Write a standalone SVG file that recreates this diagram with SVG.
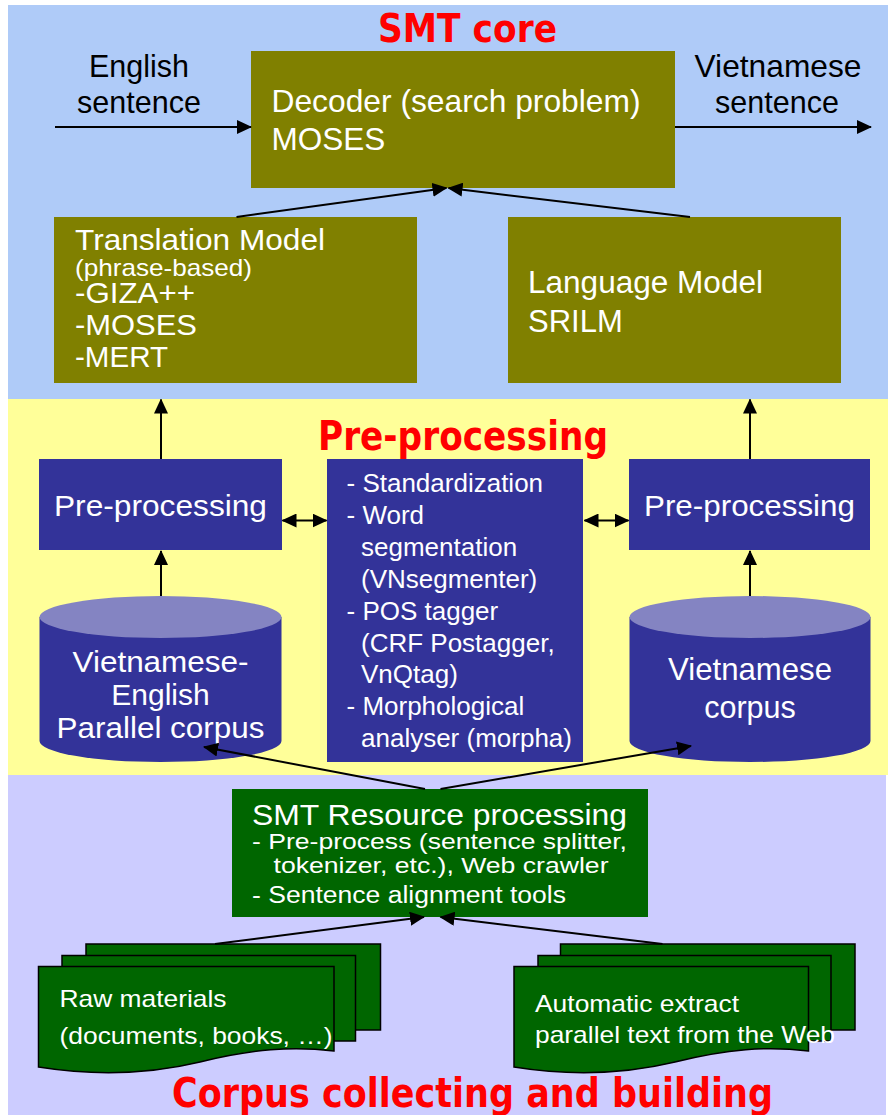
<svg xmlns="http://www.w3.org/2000/svg" width="888" height="1115" viewBox="0 0 888 1115">
  <defs>
    <marker id="ah" viewBox="0 0 15 14" refX="14" refY="7" markerWidth="15" markerHeight="14" markerUnits="userSpaceOnUse" orient="auto-start-reverse">
      <path d="M0,0 L15,7 L0,14 Z" fill="#000"/>
    </marker>
    <style>
      .band-core { fill: #AFCBF8; }
      .band-pre { fill: #FFFF99; }
      .band-corpus { fill: #CCCCFF; }
      .title { font-family: "DejaVu Sans", "Liberation Sans", sans-serif; font-weight: bold; fill: #FF0000; }
      .olive { fill: #808000; }
      .navy { fill: #333399; }
      .navy-top { fill: #8484C2; }
      .green { fill: #006600; }
      .page { fill: #006600; stroke: #000; stroke-width: 1.5; }
      .t { font-family: "Liberation Sans", Arial, sans-serif; fill: #fff; }
      .k { font-family: "Liberation Sans", Arial, sans-serif; fill: #000; }
      .conn line, .conn path { stroke: #000; stroke-width: 2; fill: none; }
    </style>
  </defs>

  <!-- background bands -->
  <rect width="888" height="1115" fill="#fff"/>
  <rect class="band-core" x="8" y="5" width="880" height="394"/>
  <rect class="band-pre" x="8" y="399" width="880" height="376"/>
  <rect class="band-corpus" x="8" y="775" width="878" height="340"/>

  <!-- band titles -->
  <text class="title" x="378" y="41.5" font-size="38.5" textLength="179" lengthAdjust="spacingAndGlyphs">SMT core</text>
  <text class="title" x="318" y="450" font-size="41" textLength="290" lengthAdjust="spacingAndGlyphs">Pre-processing</text>
  <text class="title" x="172" y="1107" font-size="40" textLength="601" lengthAdjust="spacingAndGlyphs">Corpus collecting and building</text>

  <!-- side labels -->
  <g id="label-english">
    <text class="k" x="139" y="77" font-size="30.5" text-anchor="middle">English</text>
    <text class="k" x="139" y="113" font-size="30.5" text-anchor="middle">sentence</text>
  </g>
  <g id="label-vietnamese">
    <text class="k" x="778" y="77" font-size="30.5" text-anchor="middle" textLength="167" lengthAdjust="spacingAndGlyphs">Vietnamese</text>
    <text class="k" x="777" y="113" font-size="30.5" text-anchor="middle">sentence</text>
  </g>

  <!-- SMT core nodes -->
  <g id="decoder">
    <rect class="olive" x="251" y="51" width="424" height="137"/>
    <text class="t" x="271.5" y="112" font-size="31.5" textLength="369" lengthAdjust="spacingAndGlyphs">Decoder (search problem)</text>
    <text class="t" x="271.5" y="150" font-size="31.5">MOSES</text>
  </g>
  <g id="translation-model">
    <rect class="olive" x="54" y="217" width="363" height="166"/>
    <text class="t" x="75" y="250" font-size="29" textLength="250" lengthAdjust="spacingAndGlyphs">Translation Model</text>
    <text class="t" x="75" y="276" font-size="24" textLength="177" lengthAdjust="spacingAndGlyphs">(phrase-based)</text>
    <text class="t" x="75" y="303" font-size="29" textLength="120" lengthAdjust="spacingAndGlyphs">-GIZA++</text>
    <text class="t" x="75" y="335" font-size="29" textLength="122" lengthAdjust="spacingAndGlyphs">-MOSES</text>
    <text class="t" x="75" y="367" font-size="29" textLength="93" lengthAdjust="spacingAndGlyphs">-MERT</text>
  </g>
  <g id="language-model">
    <rect class="olive" x="508" y="217" width="333" height="166"/>
    <text class="t" x="528" y="293" font-size="31" textLength="235" lengthAdjust="spacingAndGlyphs">Language Model</text>
    <text class="t" x="528" y="332" font-size="31">SRILM</text>
  </g>

  <!-- pre-processing nodes -->
  <g id="preproc-left">
    <rect class="navy" x="39" y="459" width="243" height="91"/>
    <text class="t" x="54" y="516" font-size="30" textLength="213" lengthAdjust="spacingAndGlyphs">Pre-processing</text>
  </g>
  <g id="preproc-tools">
    <rect class="navy" x="327" y="459" width="256" height="303"/>
    <g class="t" font-size="26">
      <text x="346.5" y="492">- Standardization</text>
      <text x="346.5" y="524">- Word</text>
      <text x="361" y="556">segmentation</text>
      <text x="361" y="588">(VNsegmenter)</text>
      <text x="346.5" y="620">- POS tagger</text>
      <text x="361" y="652">(CRF Postagger,</text>
      <text x="361" y="683">VnQtag)</text>
      <text x="346.5" y="715">- Morphological</text>
      <text x="361" y="747">analyser (morpha)</text>
    </g>
  </g>
  <g id="preproc-right">
    <rect class="navy" x="629" y="459" width="241" height="91"/>
    <text class="t" x="644" y="516" font-size="30" textLength="211" lengthAdjust="spacingAndGlyphs">Pre-processing</text>
  </g>

  <!-- corpora -->
  <g id="parallel-corpus">
    <path class="navy" d="M39.5,617 V741 A121,21 0 0 0 281.5,741 V617 Z"/>
    <ellipse class="navy-top" cx="160.5" cy="617" rx="121" ry="21"/>
    <text class="t" x="160.5" y="672" font-size="30" text-anchor="middle" textLength="176" lengthAdjust="spacingAndGlyphs">Vietnamese-</text>
    <text class="t" x="160.5" y="705" font-size="30" text-anchor="middle">English</text>
    <text class="t" x="160.5" y="738" font-size="30" text-anchor="middle" textLength="208" lengthAdjust="spacingAndGlyphs">Parallel corpus</text>
  </g>
  <g id="vietnamese-corpus">
    <path class="navy" d="M629.5,617 V741 A120.5,21 0 0 0 870.5,741 V617 Z"/>
    <ellipse class="navy-top" cx="750" cy="617" rx="120.5" ry="21"/>
    <text class="t" x="750" y="680" font-size="30.5" text-anchor="middle" textLength="164" lengthAdjust="spacingAndGlyphs">Vietnamese</text>
    <text class="t" x="750" y="718" font-size="30.5" text-anchor="middle">corpus</text>
  </g>

  <!-- corpus building nodes -->
  <g id="resource-processing">
    <rect class="green" x="232" y="789" width="416" height="128"/>
    <text class="t" x="252" y="825" font-size="29" textLength="375" lengthAdjust="spacingAndGlyphs">SMT Resource processing</text>
    <text class="t" x="252" y="849" font-size="22" textLength="375" lengthAdjust="spacingAndGlyphs">- Pre-process (sentence splitter,</text>
    <text class="t" x="273.5" y="873" font-size="22" textLength="335" lengthAdjust="spacingAndGlyphs">tokenizer, etc.), Web crawler</text>
    <text class="t" x="252" y="903" font-size="23" textLength="314" lengthAdjust="spacingAndGlyphs">- Sentence alignment tools</text>
  </g>
  <g id="raw-materials">
    <rect class="page" x="86" y="944" width="294.5" height="86"/>
    <rect class="page" x="62" y="955.5" width="293.5" height="85.5"/>
    <path class="page" d="M38.5,966.5 H334 V1051 C292,1046 252,1049 200,1062 C150,1074 95,1076 38.5,1067 Z"/>
    <text class="t" x="59.5" y="1007" font-size="24" textLength="167" lengthAdjust="spacingAndGlyphs">Raw materials</text>
    <text class="t" x="59.5" y="1044" font-size="24" textLength="273" lengthAdjust="spacingAndGlyphs">(documents, books, …)</text>
  </g>
  <g id="web-extract">
    <rect class="page" x="560.5" y="944" width="294.5" height="86"/>
    <rect class="page" x="538" y="955.5" width="293" height="85.5"/>
    <path class="page" d="M514,966.5 H808.5 V1051 C767,1046 727,1049 675,1062 C625,1074 570,1076 514,1067 Z"/>
    <text class="t" x="535" y="1011.5" font-size="24" textLength="204" lengthAdjust="spacingAndGlyphs">Automatic extract</text>
    <text class="t" x="535" y="1043" font-size="24" textLength="300" lengthAdjust="spacingAndGlyphs">parallel text from the Web</text>
  </g>

  <!-- connectors -->
  <g id="connectors" class="conn">
    <line x1="55" y1="127" x2="251" y2="127" marker-end="url(#ah)"/>
    <line x1="675" y1="127" x2="871" y2="127" marker-end="url(#ah)"/>
    <line x1="236.5" y1="217" x2="446.5" y2="188" marker-end="url(#ah)"/>
    <line x1="690" y1="217" x2="448.5" y2="188" marker-end="url(#ah)"/>
    <line x1="161" y1="459" x2="161" y2="399.5" marker-end="url(#ah)"/>
    <line x1="750" y1="459" x2="750" y2="399.5" marker-end="url(#ah)"/>
    <line x1="161" y1="596" x2="161" y2="551" marker-end="url(#ah)"/>
    <line x1="750" y1="596" x2="750" y2="551" marker-end="url(#ah)"/>
    <line x1="282.5" y1="520.5" x2="326.5" y2="520.5" marker-start="url(#ah)" marker-end="url(#ah)"/>
    <line x1="584.5" y1="520.5" x2="628.5" y2="520.5" marker-start="url(#ah)" marker-end="url(#ah)"/>
    <line x1="425" y1="789" x2="204" y2="747" marker-end="url(#ah)"/>
    <line x1="440.5" y1="789" x2="691" y2="746" marker-end="url(#ah)"/>
    <line x1="215" y1="944" x2="424" y2="917" marker-end="url(#ah)"/>
    <line x1="662.5" y1="944" x2="440.5" y2="917" marker-end="url(#ah)"/>
  </g>
</svg>
